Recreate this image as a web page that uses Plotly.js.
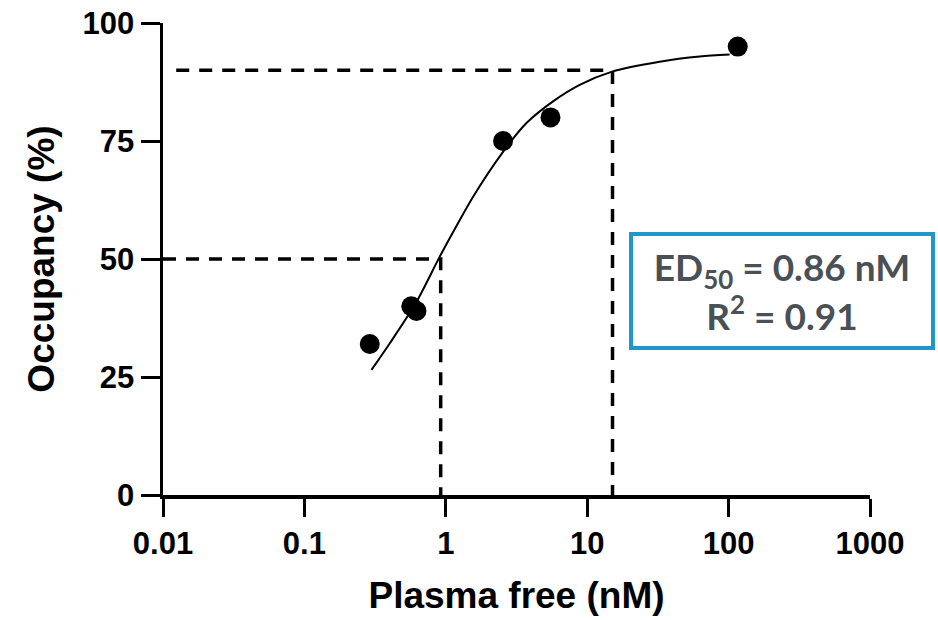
<!DOCTYPE html>
<html>
<head>
<meta charset="utf-8">
<script src="https://cdn.plot.ly/plotly-3.0.1.min.js"></script>
<style>
  html, body { margin: 0; padding: 0; background: #ffffff; }
  #chart { width: 938px; height: 620px; }
</style>
</head>
<body>
<div id="chart"></div>
<script>
// Measured data points (plasma free concentration, nM vs occupancy, %)
const pointX = [0.29, 0.57, 0.62, 2.54, 5.5, 116];
const pointY = [32, 40, 39, 75, 80, 95];

// Fitted curve
const curveX = [0.298, 0.401, 0.612, 0.906, 1.19, 1.56, 2.54, 3.72, 5.73, 8.85, 15.0, 32.5, 62.4, 101.6];
const curveY = [26.5, 32.1, 40.6, 50.5, 57.0, 63.2, 72.7, 78.8, 83.4, 86.9, 89.7, 91.8, 92.9, 93.3];

// Reference (dashed) lines: ED50 and ED90
const ed50X = [0.01, 0.92, 0.92];
const ed50Y = [50, 50, 0];
const ed90X = [0.0124, 15.1, 15.1];
const ed90Y = [90, 90, 0];

// Axis ticks
const xTickVals = [0.01, 0.1, 1, 10, 100, 1000];
const xTickText = ["0.01", "0.1", "1", "10", "100", "1000"];
const yTickVals = [0, 25, 50, 75, 100];
const yTickText = ["0", "25", "50", "75", "100"];

const axisFont = { family: "Liberation Sans, Arial, sans-serif", size: 31, color: "#000000", weight: "bold" };
const titleFont = { family: "Liberation Sans, Arial, sans-serif", size: 37, color: "#000000", weight: "bold" };

const dash = "13px,10px";

const traces = [
  { x: ed50X, y: ed50Y, type: "scatter", mode: "lines",
    line: { color: "#000000", width: 3.5, dash: dash }, hoverinfo: "skip", cliponaxis: false },
  { x: ed90X, y: ed90Y, type: "scatter", mode: "lines",
    line: { color: "#000000", width: 3.5, dash: dash }, hoverinfo: "skip", cliponaxis: false },
  { x: curveX, y: curveY, type: "scatter", mode: "lines",
    line: { color: "#000000", width: 2, shape: "spline", smoothing: 0.8 }, cliponaxis: false },
  { x: pointX, y: pointY, type: "scatter", mode: "markers",
    marker: { color: "#000000", size: 20 }, cliponaxis: false }
];

const layout = {
  width: 938, height: 620,
  margin: { l: 163, r: 68, t: 23, b: 125, pad: 0 },
  paper_bgcolor: "#ffffff", plot_bgcolor: "#ffffff",
  showlegend: false,
  xaxis: {
    type: "log", range: [-2, 3],
    tickmode: "array", tickvals: xTickVals, ticktext: xTickText,
    ticks: "outside", ticklen: 18, tickwidth: 3, tickcolor: "#000000",
    showline: true, linewidth: 3.5, linecolor: "#000000",
    showgrid: false, zeroline: false,
    tickfont: axisFont,
    title: { text: "Plasma free (nM)", font: titleFont, standoff: 23 }
  },
  yaxis: {
    range: [0, 100],
    tickmode: "array", tickvals: yTickVals, ticktext: yTickText,
    ticks: "outside", ticklen: 19, tickwidth: 3, tickcolor: "#000000",
    showline: true, linewidth: 3.5, linecolor: "#000000",
    showgrid: false, zeroline: false,
    tickfont: axisFont,
    title: { text: "Occupancy (%)", font: titleFont, standoff: 17 }
  },
  annotations: [{
    xref: "paper", yref: "paper", x: 0.876, y: 0.432,
    xanchor: "center", yanchor: "middle",
    text: "ED<sub>50</sub> = 0.86 nM<br>R<sup>2</sup> = 0.91",
    showarrow: false, align: "center",
    width: 298, height: 110,
    bgcolor: "#ffffff", bordercolor: "#2196c9", borderwidth: 4, borderpad: 0,
    font: { family: "Lato, Open Sans, sans-serif", size: 37, color: "#4a5156", weight: "bold" }
  }]
};

Plotly.newPlot("chart", traces, layout, { displayModeBar: false, staticPlot: true });
</script>
</body>
</html>
